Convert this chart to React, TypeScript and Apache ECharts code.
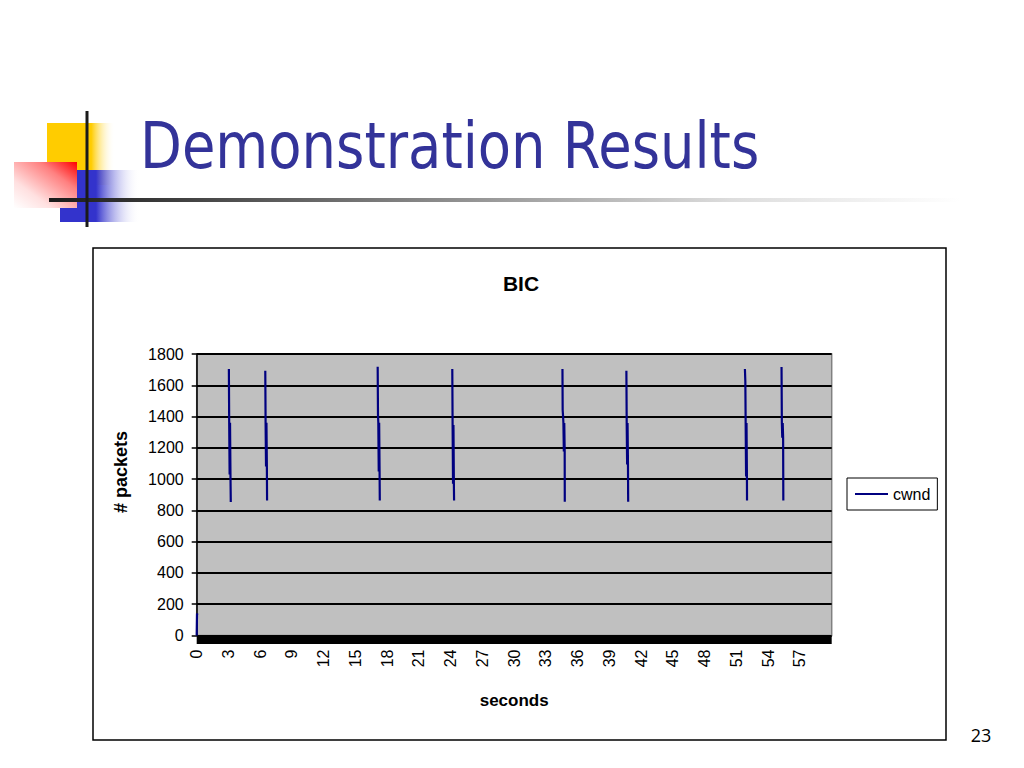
import React, { useEffect, useRef } from "react";
import * as echarts from "echarts";

// x-axis tick labels (seconds)
const xTickLabels = ["0","3","6","9","12","15","18","21","24","27","30","33","36","39","42","45","48","51","54","57"];
// y-axis tick values
const yTicks = [0, 200, 400, 600, 800, 1000, 1200, 1400, 1600, 1800];

// cwnd samples: time (s) and cwnd (# packets); null = gap in the trace
const timeSec: number[] = [
  0, 0.03, 0.06, 0.07,
  3.04, 3.07, 3.11, 3.15, 3.19, 3.22, 3.23,
  6.48, 6.51, 6.55, 6.59, 6.63, 6.65, 6.66,
  17.1, 17.13, 17.16, 17.2, 17.24, 17.28, 17.3, 17.31,
  24.15, 24.18, 24.22, 24.26, 24.3, 24.32, 24.33,
  34.56, 34.58, 34.62, 34.65, 34.69, 34.73, 34.77, 34.78, 34.79,
  40.6, 40.63, 40.67, 40.71, 40.75, 40.77, 40.78,
  51.8, 51.84, 51.87, 51.91, 51.95, 51.99, 52.0, 52.01,
  55.26, 55.29, 55.33, 55.37, 55.41, 55.43,
];
const cwnd: (number | null)[] = [
  0, 140, 132, null,
  1704, 1361, 1030, 1361, 1030, 853, null,
  1693, 1361, 1080, 1361, 1080, 863, null,
  1719, 1410, 1361, 1049, 1361, 1049, 863, null,
  1704, 1346, 970, 1346, 970, 863, null,
  1704, 1442, 1400, 1359, 1176, 1359, 1176, 855, null,
  1693, 1359, 1094, 1359, 1094, 855, null,
  1704, 1623, 1359, 1017, 1359, 1017, 863, null,
  1717, 1359, 1264, 1359, 1264, 863,
];

const seriesName = "cwnd";
const chartTitle = "BIC";
const xName = "seconds";
const yName = "# packets";
const slideTitle = "Demonstration Results";
const pageNumber = "23";

export default function App() {
  const ref = useRef<HTMLDivElement>(null);
  useEffect(() => {
    if (!ref.current) return;
    const chart = echarts.init(ref.current, undefined, { renderer: "svg" });
    const data = timeSec.map((t, i) => [t, cwnd[i] === null ? "-" : cwnd[i]]);
    const option: any = {
      animation: false,
      backgroundColor: "#ffffff",
      title: {
        text: chartTitle,
        left: 516,
        top: 268,
        textAlign: "center",
        textStyle: { fontFamily: "Liberation Sans", fontSize: 21, fontWeight: "bold", color: "#000" },
      },
      legend: {
        orient: "vertical",
        left: 847,
        top: 478,
        padding: [8, 7, 8, 8],
        borderColor: "#000",
        borderWidth: 1,
        itemWidth: 33,
        itemHeight: 2,
        itemGap: 4,
        data: [{ name: seriesName, icon: "rect" }],
        textStyle: { fontFamily: "Liberation Sans", fontSize: 16, color: "#000", padding: [0, 0, 0, 0] },
      },
      grid: {
        left: 196.7,
        right: 192.3,
        top: 354,
        bottom: 132.5,
        show: true,
        backgroundColor: "#c0c0c0",
        borderColor: "#808080",
        borderWidth: 1.5,
      },
      xAxis: {
        type: "value",
        min: 0,
        max: 60,
        interval: 3,
        offset: 4,
        name: xName,
        nameLocation: "middle",
        nameGap: 52,
        nameTextStyle: { fontFamily: "Liberation Sans", fontSize: 17, fontWeight: "bold", color: "#000" },
        axisLine: { show: true, onZero: false, lineStyle: { color: "#000", width: 8, cap: "butt" } },
        axisTick: { show: false },
        splitLine: { show: false },
        axisLabel: {
          rotate: 90,
          margin: 10,
          fontFamily: "Liberation Sans",
          fontSize: 16,
          color: "#000",
          showMaxLabel: false,
          formatter: (v: number) => {
            const s = String(Math.round(v));
            return xTickLabels.includes(s) ? s : "";
          },
        },
      },
      yAxis: {
        type: "value",
        min: yTicks[0],
        max: yTicks[yTicks.length - 1],
        interval: 200,
        axisLine: { show: true, lineStyle: { color: "#000", width: 1.5 } },
        axisTick: { show: true, inside: false, length: 5, lineStyle: { color: "#000", width: 1.5 } },
        splitLine: { show: true, lineStyle: { color: "#000", width: 2 } },
        axisLabel: {
          margin: 13,
          fontFamily: "Liberation Sans",
          fontSize: 16,
          color: "#000",
          formatter: (v: number) => String(v),
        },
      },
      series: [
        {
          name: seriesName,
          type: "line",
          data,
          showSymbol: false,
          connectNulls: false,
          color: "#000080",
          lineStyle: { color: "#000080", width: 2.2 },
          z: 5,
        },
      ],
      graphic: [
        // logo
        {
          type: "rect",
          shape: { x: 47, y: 123, width: 68, height: 62 },
          style: {
            fill: new echarts.graphic.LinearGradient(0, 0, 1, 0, [
              { offset: 0, color: "#ffcc00" },
              { offset: 0.65, color: "#ffcc00" },
              { offset: 1, color: "rgba(255,255,255,0)" },
            ]),
          },
        },
        {
          type: "rect",
          shape: { x: 60, y: 170, width: 80, height: 52 },
          style: {
            fill: new echarts.graphic.LinearGradient(0, 0, 1, 0, [
              { offset: 0, color: "#3333cc" },
              { offset: 0.45, color: "#3333cc" },
              { offset: 1, color: "rgba(255,255,255,0)" },
            ]),
          },
        },
        {
          type: "rect",
          shape: { x: 14, y: 162, width: 63, height: 46 },
          style: {
            fill: new echarts.graphic.LinearGradient(1, 0, 0, 1, [
              { offset: 0, color: "#ff0000" },
              { offset: 0.3, color: "#ff8080" },
              { offset: 0.7, color: "#ffe0e0" },
              { offset: 1, color: "#ffffff" },
            ]),
          },
        },
        {
          type: "rect",
          shape: { x: 49, y: 198, width: 911, height: 4 },
          style: {
            fill: new echarts.graphic.LinearGradient(0, 0, 1, 0, [
              { offset: 0, color: "#1a1a1a" },
              { offset: 0.35, color: "#777777" },
              { offset: 0.75, color: "#dddddd" },
              { offset: 1, color: "#ffffff" },
            ]),
          },
        },
        {
          type: "rect",
          shape: { x: 85.5, y: 111, width: 3, height: 116 },
          style: { fill: "#1a1a1a" },
        },
        // slide title
        {
          type: "text",
          x: 140,
          y: 146,
          scaleX: 0.85,
          style: {
            text: slideTitle,
            fontFamily: "DejaVu Sans",
            fontSize: 64,
            fill: "#333399",
            verticalAlign: "middle",
            align: "left",
          },
        },
        // chart frame
        {
          type: "rect",
          shape: { x: 93, y: 248, width: 853, height: 492 },
          style: { fill: "none", stroke: "#000", lineWidth: 1.5 },
        },
        // y axis name
        {
          type: "text",
          x: 121,
          y: 472,
          rotation: Math.PI / 2,
          style: {
            text: yName,
            fontFamily: "Liberation Sans",
            fontSize: 18,
            fontWeight: "bold",
            fill: "#000",
            align: "center",
            verticalAlign: "middle",
          },
        },
        // page number
        {
          type: "text",
          x: 981,
          y: 735,
          style: {
            text: pageNumber,
            fontFamily: "Open Sans",
            fontSize: 18,
            fill: "#000",
            align: "center",
            verticalAlign: "middle",
          },
        },
      ],
    };
    chart.setOption(option);
    return () => chart.dispose();
  }, []);
  return (
    <div
      ref={ref}
      style={{ position: "absolute", left: 0, top: 0, width: 1024, height: 768 }}
    />
  );
}
